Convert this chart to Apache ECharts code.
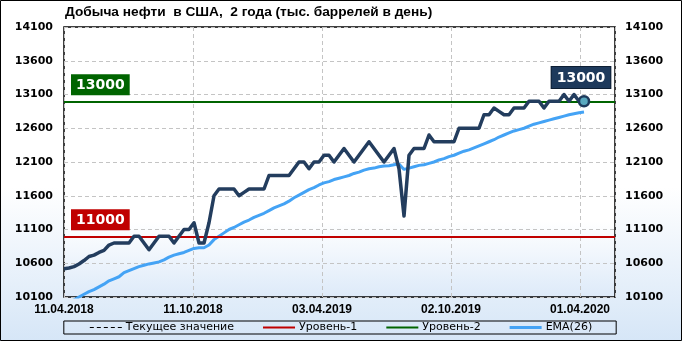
<!DOCTYPE html>
<html>
<head>
<meta charset="utf-8">
<script src="https://cdn.jsdelivr.net/npm/echarts@6/dist/echarts.min.js"></script>
<style>html,body{margin:0;padding:0;background:#fff}#c{width:682px;height:341px}</style>
</head>
<body>
<div id="c"></div>
<script>
// Weekly US crude oil production, thousand barrels per day (one value per week)
const tickLabels = ['11.04.2018', '11.10.2018', '03.04.2019', '02.10.2019', '01.04.2020'];
const oil = [
  10520, 10530, 10550, 10590, 10640, 10700, 10720, 10760, 10790, 10870,
  10900, 10900, 10900, 10900, 11000, 11000, 10900, 10800, 10900, 11000,
  11000, 11000, 10900, 11000, 11100, 11100, 11200, 10900, 10900, 11200,
  11600, 11700, 11700, 11700, 11700, 11600, 11650, 11700, 11700, 11700,
  11700, 11900, 11900, 11900, 11900, 11900, 12000, 12100, 12100, 12000,
  12100, 12100, 12200, 12200, 12100, 12200, 12300, 12200, 12100, 12200,
  12300, 12400, 12300, 12200, 12100, 12200, 12300, 12000, 11300, 12200,
  12300, 12300, 12300, 12500, 12400, 12400, 12400, 12400, 12400, 12600,
  12600, 12600, 12600, 12600, 12800, 12800, 12900, 12850, 12800, 12800,
  12900, 12900, 12900, 13000, 13000, 13000, 12900, 13000, 13000, 13000,
  13100, 13000, 13100, 13000, 13000
];
const ema26 = [
  9980, 10020, 10060, 10100, 10140, 10180, 10210, 10250, 10290, 10340,
  10370, 10400, 10460, 10490, 10520, 10550, 10570, 10590, 10605, 10620,
  10650, 10690, 10720, 10740, 10760, 10790, 10820, 10830, 10830, 10870,
  10950, 11000, 11050, 11100, 11130, 11170, 11210, 11240, 11280, 11310,
  11340, 11380, 11420, 11450, 11480, 11520, 11570, 11610, 11650, 11690,
  11720, 11760, 11790, 11810, 11840, 11860, 11880, 11900, 11930, 11950,
  11980, 12000, 12010, 12030, 12040, 12045, 12060, 12070, 11990, 12010,
  12030, 12050, 12060, 12080, 12100, 12130, 12150, 12180, 12200, 12230,
  12260, 12280, 12310, 12340, 12370, 12400, 12430, 12470, 12500, 12530,
  12560, 12580, 12600, 12630, 12660, 12680, 12700, 12720, 12740, 12760,
  12780, 12800, 12815, 12830, 12840
];
const level1 = 11000;
const level2 = 13000;
const yMin = 10100, yMax = 14100, yStep = 500;
const xTickStep = 25.8;   // weeks between date labels
const xMax = 110.2;       // axis extends past the last week

const lastIdx = oil.length - 1;
const lastVal = oil[lastIdx];

const navy = '#233d5e';
const emaColor = '#44a3f5';
const red = '#c00000';
const green = '#006400';

const chart = echarts.init(document.getElementById('c'), null, {renderer: 'canvas'});

const yLabel = {fontFamily: 'DejaVu Sans', fontWeight: 'bold', fontSize: 11, color: '#000', formatter: (v) => String(v)};
const levelLabel = (bg) => ({
  show: true, position: 'insideStartTop', distance: [7, 6],
  formatter: (p) => String(p.value),
  backgroundColor: bg, color: '#fff', fontFamily: 'DejaVu Sans', fontWeight: 'bold',
  fontSize: 14, padding: [4, 5, 3, 5]
});

chart.setOption({
  animation: false,
  backgroundColor: {
    type: 'linear', x: 0, y: 0, x2: 0, y2: 1,
    colorStops: [{offset: 0, color: '#ffffff'}, {offset: 0.55, color: '#ffffff'}, {offset: 1, color: '#d6e6f7'}]
  },
  title: {
    text: 'Добыча нефти  в США,  2 года (тыс. баррелей в день)',
    left: 65, top: 5, padding: 0,
    textStyle: {fontFamily: 'Liberation Sans', fontWeight: 'bold', fontSize: 13.7, color: '#000'}
  },
  graphic: [{
    type: 'rect', silent: true, z: 100,
    shape: {x: 0.5, y: 0.5, width: 681, height: 340},
    style: {fill: 'none', stroke: '#000', lineWidth: 1}
  }],
  grid: {
    left: 64, right: 67, top: 27, bottom: 44,
    show: true, borderColor: '#000', borderWidth: 1.5,
    backgroundColor: {
      type: 'linear', x: 0, y: 0, x2: 0, y2: 1,
      colorStops: [{offset: 0, color: '#ffffff'}, {offset: 0.72, color: '#ffffff'}, {offset: 1, color: '#ddeaf9'}]
    }
  },
  legend: {
    top: 321, left: 'center',
    padding: [1, 24, 1, 26],
    borderColor: '#000', borderWidth: 1,
    itemGap: 29, itemWidth: 32, itemHeight: 4,
    textStyle: {fontFamily: 'DejaVu Sans', fontSize: 11, color: '#000', padding: [0, 0, 0, -1]},
    data: [
      {name: 'Текущее значение', icon: 'path://M0,0h4v1h-4zM7,0h4v1h-4zM14,0h4v1h-4zM21,0h4v1h-4zM28,0h4v1h-4z', itemStyle: {color: '#000'}},
      {name: 'Уровень-1', icon: 'path://M0,0h32v2h-32z', itemStyle: {color: red}},
      {name: 'Уровень-2', icon: 'path://M0,0h32v2h-32z', itemStyle: {color: green}},
      {name: 'EMA(26)', icon: 'path://M0,0h32v3h-32z', itemStyle: {color: emaColor}}
    ]
  },
  xAxis: {
    type: 'value', min: 0, max: xMax, interval: xTickStep,
    axisLine: {show: false}, axisTick: {show: false},
    splitLine: {show: true, lineStyle: {color: '#c4c4c4', type: [4, 3], width: 1}},
    axisLabel: {
      margin: 7, showMaxLabel: false,
      fontFamily: 'Liberation Sans', fontWeight: 'bold', fontSize: 12, color: '#000',
      formatter: (v) => {
        const k = Math.round(v / xTickStep);
        return Math.abs(k * xTickStep - v) < 0.01 && k < tickLabels.length ? tickLabels[k] : '';
      }
    }
  },
  yAxis: [
    {
      type: 'value', min: yMin, max: yMax, interval: yStep, position: 'left',
      axisLine: {show: false}, axisTick: {show: false},
      splitLine: {show: true, lineStyle: {color: '#c4c4c4', type: [4, 3], width: 1}},
      axisLabel: Object.assign({margin: 11}, yLabel)
    },
    {
      type: 'value', min: yMin, max: yMax, interval: yStep, position: 'right',
      axisLine: {show: false}, axisTick: {show: false}, splitLine: {show: false},
      axisLabel: Object.assign({margin: 10}, yLabel)
    }
  ],
  series: [
    {
      name: 'Текущее значение', type: 'line', data: [], color: '#000', z: 2,
      markLine: {
        silent: true, symbol: ['none', 'none'], label: {show: false},
        lineStyle: {color: '#000', type: [4, 3], width: 1},
        data: [{yAxis: lastVal}]
      }
    },
    {
      name: 'Уровень-1', type: 'line', data: [], color: red, z: 3,
      markLine: {
        silent: true, symbol: ['none', 'none'],
        lineStyle: {color: red, type: 'solid', width: 2},
        data: [{yAxis: level1, label: levelLabel(red)}]
      }
    },
    {
      name: 'Уровень-2', type: 'line', data: [], color: green, z: 3,
      markLine: {
        silent: true, symbol: ['none', 'none'],
        lineStyle: {color: green, type: 'solid', width: 2},
        data: [{yAxis: level2, label: levelLabel(green)}]
      }
    },
    {
      name: 'EMA(26)', type: 'line', color: emaColor, z: 4,
      showSymbol: false, symbol: 'none', clip: true,
      lineStyle: {color: emaColor, width: 3},
      data: ema26.map((v, i) => [i, v])
    },
    {
      name: 'Добыча', type: 'line', color: navy, z: 5,
      showSymbol: false, symbol: 'none', clip: true,
      lineStyle: {color: navy, width: 3.5, join: 'round'},
      data: oil.map((v, i) => [i, v])
    },
    {
      name: 'Последнее', type: 'scatter', z: 6,
      symbol: 'circle', symbolSize: 10,
      itemStyle: {color: '#5aa9bf', borderColor: '#1e3a5c', borderWidth: 2.5, opacity: 1},
      label: {
        show: true, position: 'top', distance: 7, offset: [-3, 0],
        formatter: (p) => String(p.value[1]),
        backgroundColor: '#1e3a5c', borderColor: '#0d1e33', borderWidth: 1,
        color: '#fff', fontFamily: 'DejaVu Sans', fontWeight: 'bold', fontSize: 14,
        padding: [4, 5, 3, 5], opacity: 1
      },
      data: [[lastIdx, lastVal]]
    }
  ]
});
</script>
</body>
</html>
